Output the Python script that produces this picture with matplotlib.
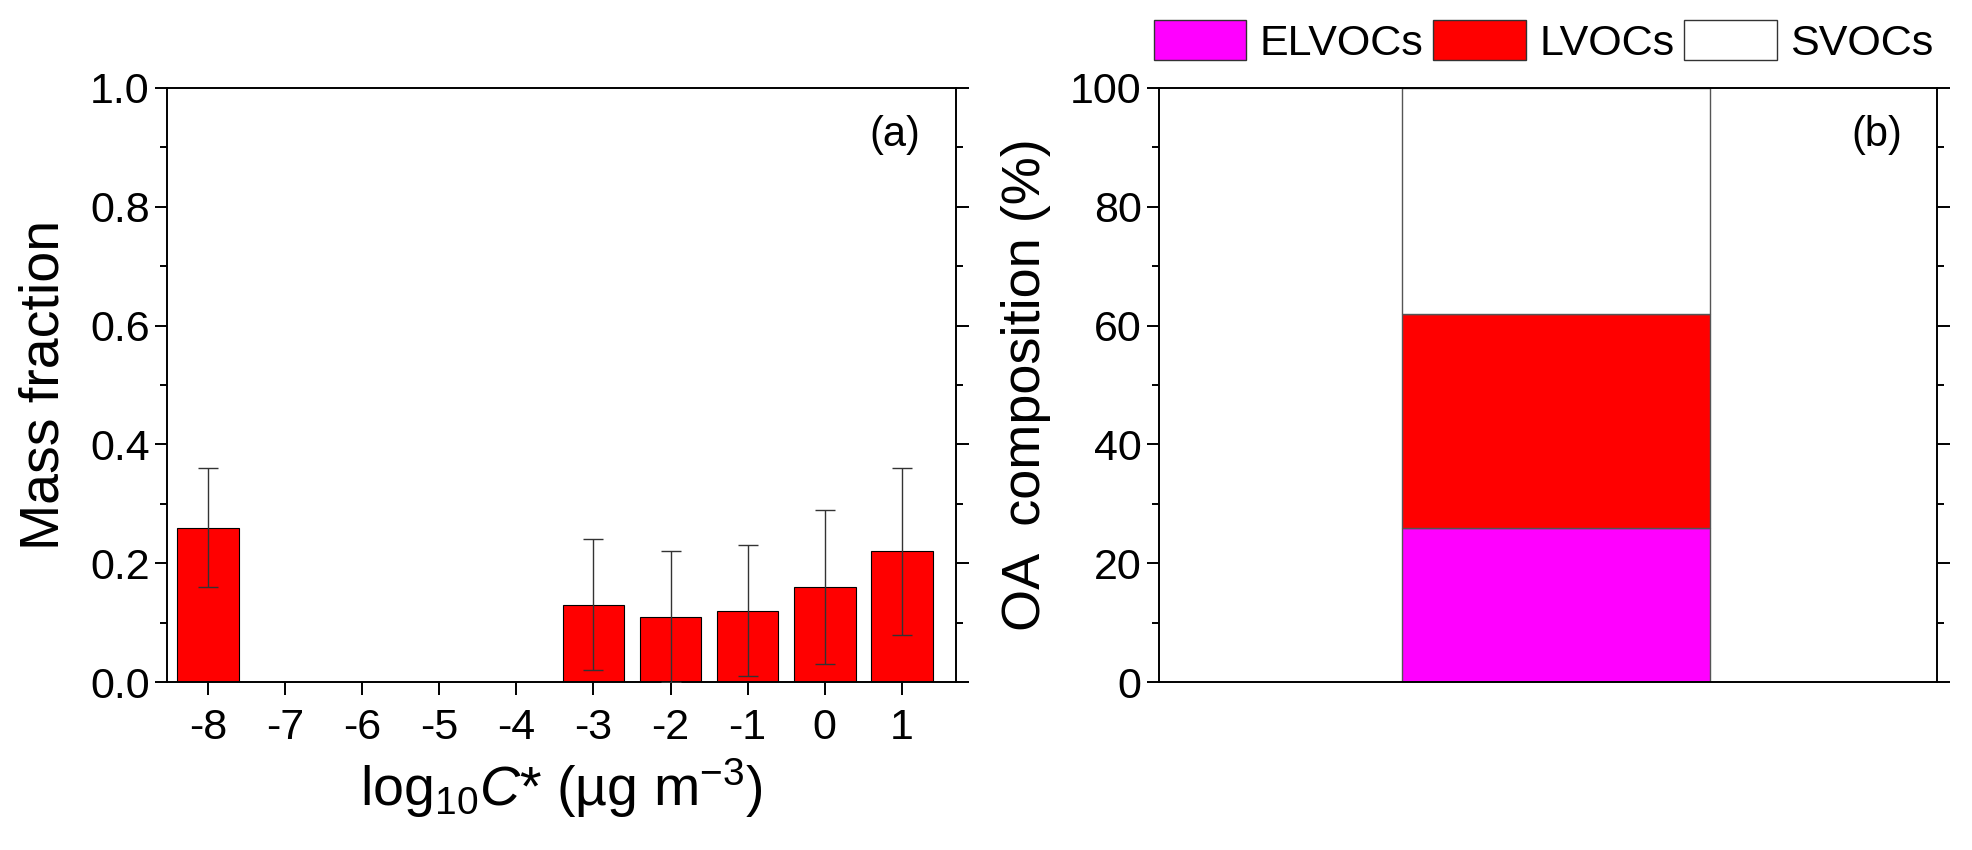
import matplotlib
matplotlib.use('Agg')
import matplotlib.pyplot as plt
from matplotlib.ticker import MultipleLocator

plt.rcParams['font.family'] = ['Liberation Sans', 'DejaVu Sans']
plt.rcParams['mathtext.fontset'] = 'custom'
plt.rcParams['mathtext.rm'] = 'Liberation Sans'
plt.rcParams['mathtext.it'] = 'Liberation Sans:italic'

# panel (a): volatility distribution
log_cstar = [-8, -7, -6, -5, -4, -3, -2, -1, 0, 1]
mass_frac = [0.26, 0, 0, 0, 0, 0.13, 0.11, 0.12, 0.16, 0.22]
frac_err = [0.10, 0, 0, 0, 0, 0.11, 0.11, 0.11, 0.13, 0.14]

# panel (b): OA composition
groups = ['ELVOCs', 'LVOCs', 'SVOCs']
composition = [26, 36, 38]
group_colors = ['#ff00ff', '#ff0000', '#ffffff']

fig = plt.figure(figsize=(19.72, 8.5), dpi=100)
ax1 = fig.add_axes([0.0847, 0.1976, 0.400, 0.699])
ax2 = fig.add_axes([0.5877, 0.1976, 0.3945, 0.699])

tick_fs = 31
label_fs = 40

# ---- (a)
err_x = [x for x, e in zip(log_cstar, frac_err) if e > 0]
err_y = [y for y, e in zip(mass_frac, frac_err) if e > 0]
err_e = [e for e in frac_err if e > 0]
ax1.bar(log_cstar, mass_frac, width=0.8, color='#ff0000', edgecolor='black', linewidth=0.8, zorder=2)
ax1.errorbar(err_x, err_y, yerr=err_e, fmt='none', ecolor='#333333', elinewidth=1.0,
             capsize=7, capthick=1.0, zorder=3)
ax1.set_xlim(-8.53, 1.70)
ax1.set_ylim(0, 1.0)
ax1.set_xticks(log_cstar)
ax1.set_xticklabels([str(v) for v in log_cstar])
ax1.yaxis.set_major_locator(MultipleLocator(0.2))
ax1.yaxis.set_minor_locator(MultipleLocator(0.1))
ax1.set_yticklabels(['%.1f' % v for v in ax1.get_yticks()])
ax1.tick_params(axis='y', which='both', direction='out', left=True, right=True, labelright=False)
ax1.tick_params(axis='x', which='both', direction='out', top=False)
ax1.tick_params(which='major', length=9, width=1.4, labelsize=tick_fs)
ax1.tick_params(which='minor', length=5, width=1.4)
ax1.tick_params(axis='x', pad=10)
ax1.set_ylabel('Mass fraction', fontsize=label_fs, labelpad=14)
ax1.set_xlabel('log$_{10}$$\\it{C}$* (µg m$^{-3}$)', fontsize=label_fs, labelpad=6)
ax1.text(0.955, 0.955, '(a)', transform=ax1.transAxes, ha='right', va='top', fontsize=30)

# ---- (b)
bottom = 0
handles = []
for name, val, col in zip(groups, composition, group_colors):
    h = ax2.bar([1], [val], bottom=bottom, width=0.8, color=col, edgecolor='#555555',
                linewidth=1.0, label=name)
    handles.append(h)
    bottom += val
ax2.set_xlim(-0.03, 1.99)
ax2.set_ylim(0, 100)
ax2.set_xticks([])
ax2.yaxis.set_major_locator(MultipleLocator(20))
ax2.yaxis.set_minor_locator(MultipleLocator(10))
ax2.tick_params(axis='y', which='both', direction='out', left=True, right=True, labelright=False)
ax2.tick_params(which='major', length=9, width=1.4, labelsize=tick_fs)
ax2.tick_params(which='minor', length=5, width=1.4)
ax2.set_ylabel('OA  composition (%)', fontsize=39, labelpad=14)
ax2.text(0.955, 0.955, '(b)', transform=ax2.transAxes, ha='right', va='top', fontsize=30)

for ax in (ax1, ax2):
    for s in ax.spines.values():
        s.set_linewidth(1.4)

leg = fig.legend(handles=handles, labels=groups, loc='lower left',
                 bbox_to_anchor=(0.585, 0.925), ncol=3, frameon=False, fontsize=31,
                 handlelength=2.15, handleheight=1.08, handletextpad=0.32,
                 columnspacing=0.22, borderpad=0, borderaxespad=0)
for p in leg.get_patches():
    p.set_edgecolor('#333333')

fig.savefig('out.png', dpi=100)
